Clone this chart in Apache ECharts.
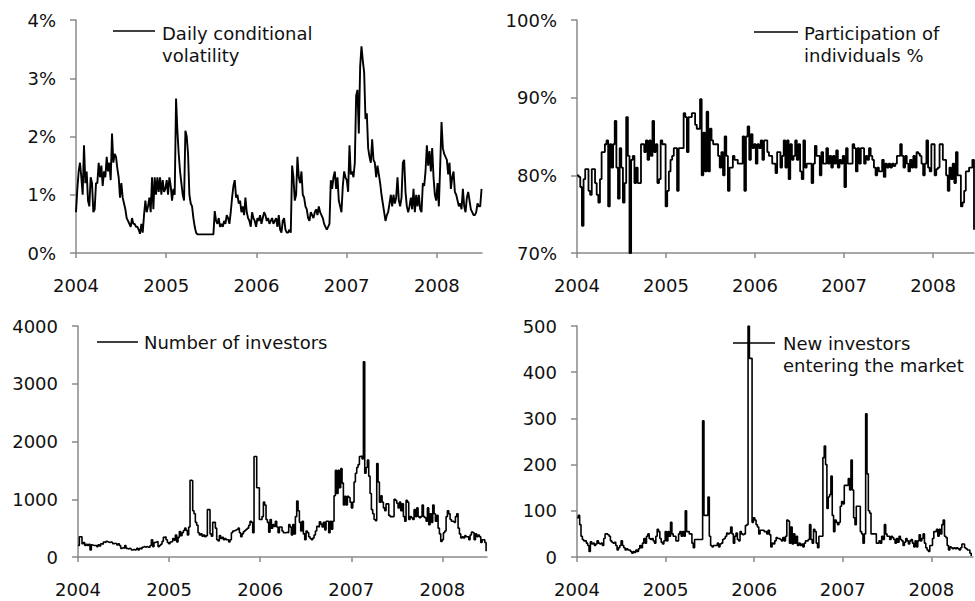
<!DOCTYPE html>
<html><head><meta charset="utf-8">
<script src="https://cdn.jsdelivr.net/npm/echarts@6/dist/echarts.min.js"></script>
<style>html,body{margin:0;padding:0;background:#fff}#c{width:975px;height:601px}</style>
</head><body><div id="c"></div>
<script>
// ---- data ----
const yearTicks = [2004, 2005, 2006, 2007, 2008];

// Daily conditional volatility, % (evenly spaced samples over volSpan)
const volSpan = [2004.0, 2008.495];
const volPct = [
0.7,1.1,1.4,1.55,1.3,1.0,1.85,1.2,1.4,0.9,
0.8,1.3,1.2,0.7,0.75,1.2,1.2,1.55,1.3,1.5,
1.15,1.4,1.3,1.65,1.4,1.55,1.25,2.05,1.55,1.7,
1.65,1.45,1.3,0.95,1.2,0.95,0.85,0.75,0.6,0.55,
0.5,0.45,0.6,0.5,0.5,0.45,0.45,0.4,0.33,0.5,
0.35,0.65,0.9,0.7,0.8,0.95,0.7,1.3,0.75,1.3,
1.0,1.3,1.05,1.3,1.0,1.25,1.05,1.1,1.25,1.0,
1.3,1.15,0.9,1.1,1.0,2.65,2.1,1.7,1.4,1.2,
1.0,0.9,2.1,2.0,1.7,1.0,0.85,0.8,0.6,0.45,
0.35,0.32,0.32,0.32,0.32,0.32,0.32,0.32,0.32,0.32,
0.32,0.32,0.32,0.32,0.72,0.55,0.5,0.6,0.45,0.5,
0.45,0.55,0.5,0.65,0.6,0.5,0.7,0.95,1.15,1.25,
0.95,1.0,0.85,0.9,0.7,0.8,0.65,0.95,0.7,0.6,
0.55,0.45,0.7,0.6,0.55,0.45,0.6,0.55,0.65,0.5,
0.6,0.7,0.65,0.55,0.6,0.5,0.55,0.6,0.5,0.55,
0.6,0.45,0.65,0.4,0.35,0.55,0.6,0.4,0.35,0.35,
0.4,0.35,1.5,1.3,0.9,1.0,1.65,1.3,1.2,1.4,
1.0,0.95,0.8,0.75,0.6,0.55,0.7,0.65,0.6,0.7,
0.75,0.65,0.8,0.7,0.65,0.6,0.5,0.45,0.4,0.45,
0.5,1.25,1.1,1.3,1.4,1.1,1.3,0.9,0.8,0.7,
1.15,1.4,1.3,1.25,1.05,1.85,1.35,1.4,1.3,1.55,
2.7,2.8,2.05,3.2,3.55,3.3,3.1,2.3,2.4,1.8,
1.65,1.55,1.95,1.6,1.55,1.3,1.5,1.35,1.2,1.0,
0.85,0.7,0.55,0.65,0.7,0.85,1.0,0.8,1.0,0.85,
0.95,1.3,0.9,0.8,0.95,1.55,1.6,1.05,0.8,0.7,
0.8,0.95,0.75,1.1,0.7,1.0,0.8,1.0,0.75,0.7,
1.2,1.15,1.4,1.85,1.5,1.75,1.4,1.8,1.3,1.0,
0.9,1.2,0.8,1.5,2.25,1.8,1.7,1.65,1.6,1.35,
1.55,1.1,1.3,1.4,1.05,1.0,0.9,0.8,0.85,0.75,
1.1,0.8,0.7,0.95,1.05,0.9,0.75,0.7,0.65,0.65,
0.7,0.85,0.8,0.8,1.1
];

// Participation of individuals, % (weekly)
const partSpan = [2004.0, 2008.46];
const partPct = [
80,79.8,78.5,73.5,79.5,80.8,80.8,78,77.5,80.8,
80.8,79,77.5,76.5,79.5,83,83,84,84.5,76,
84,81,84,87,81,77,83.5,81,76.5,79,
87.5,82.5,70,
82,82.5,79,81,79,79,84,84,83,84.5,
82,84.5,82.5,87,83,84,79,79.5,84.5,84,
84,76,78,80.5,82,82.5,83.5,83.5,78,83.5,
83.5,83.5,88,87.5,83,87.5,87.5,88,88,86.5,
86,86,89.8,80,85.5,80.5,88.2,80.5,86,84.5,
84,84,84,82.5,81,83,80,85,82.5,78,
81,81,82.5,82,82,81.5,81.5,81.5,85,78,
85,86.3,82,85.3,83.5,84,81.5,84,83.5,84.5,
82,84.5,84.5,83,82.5,82.5,81.5,81.5,80.3,83,
83,81,82.5,84.5,81,84.5,79.5,84,82,82.5,
84.5,82,84,80.5,79.5,84.5,81,81.5,81.5,81.5,
79,81.5,83.8,82.5,82.5,80,83,81.5,81.5,83.5,
81.5,82.5,81,82.5,81.5,83.2,81,82,81.5,82.5,
78.5,83.5,81.5,81.5,81.5,84,83.5,80.5,83.5,81.5,
83.5,83.5,81.5,82.5,82,83.5,82.5,82,81,80,
81,80.5,80.5,82,79.8,81.5,81,81.5,81,81.5,
81.2,81.5,82.5,82.5,84,82.5,81,82.5,81.5,80.5,
82,81,82.5,81,83,82.8,82.5,81.5,80,81.5,
84.5,81,80.5,84,84,80,80.8,81,84,84,
82,82,80,78,81,79.5,81.5,79,83,80,
80,76,76.5,78,80.5,80.5,81,81,82,73
];

// Number of investors
const invSpan = [2004.0, 2008.48];
const investors = [
200,350,350,230,250,200,220,200,220,120,
210,200,200,200,180,210,190,230,220,260,
250,270,260,250,260,250,230,240,230,210,
230,200,150,160,150,200,150,140,150,140,
120,130,120,130,150,120,150,140,170,180,
170,180,170,170,200,300,180,250,260,270,
180,200,220,270,340,350,300,250,230,260,
270,320,290,380,260,340,440,370,420,460,
500,460,380,520,1330,1320,800,750,600,550,
420,380,400,360,380,350,370,820,820,400,
360,600,600,500,300,280,370,320,340,300,
320,300,300,260,300,420,450,460,470,480,
500,420,350,400,440,460,480,500,550,620,
600,420,1740,1740,1200,1200,650,650,700,950,
900,650,600,430,650,500,560,530,620,520,
420,520,520,450,420,420,430,420,560,520,
380,560,400,700,970,800,600,450,620,400,
300,450,420,350,320,300,330,380,450,530,
520,610,570,520,600,470,620,620,420,620,
480,620,1060,1500,1100,1500,1200,1530,1280,900,
1050,900,1050,1030,950,850,950,1300,1450,1550,
1600,1740,1750,1700,3380,1450,1550,1680,1400,1100,
820,750,650,630,1620,1300,950,1060,950,850,
800,920,920,720,700,700,700,1000,980,930,
850,950,800,920,700,620,980,950,650,700,
680,650,820,700,850,700,680,700,900,700,
680,620,850,560,750,600,900,750,620,720,
500,400,270,300,420,450,700,800,750,650,
620,620,600,700,750,500,400,330,350,330,
370,350,350,300,380,430,420,300,400,350,
380,350,250,300,300,250,100
];

// New investors entering the market
const newSpan = [2004.0, 2008.45];
const newInvestors = [
85,90,70,45,38,35,35,30,25,12,
33,28,30,25,28,35,30,28,30,25,
40,50,50,48,45,35,32,30,32,25,
15,20,25,35,25,20,15,18,15,15,
12,8,12,10,15,12,18,25,20,30,
40,30,45,50,40,38,40,35,30,45,
60,55,40,32,28,35,55,35,55,45,
75,50,45,45,35,35,50,55,45,55,
45,100,55,55,50,50,30,20,38,38,
38,38,38,38,295,90,90,90,130,45,
25,22,25,25,25,30,22,28,30,38,
40,45,52,50,52,65,50,30,45,52,
38,35,55,50,48,50,68,70,500,430,
430,75,85,80,70,65,50,58,58,58,
55,55,50,58,48,22,30,28,35,42,
40,40,38,35,42,35,45,80,78,30,
65,28,50,30,45,25,30,25,28,22,
30,35,35,38,70,38,30,60,55,30,
20,45,45,45,215,240,200,105,130,135,
175,90,55,80,75,70,75,110,120,115,
155,155,155,170,145,210,145,85,70,110,
110,110,55,50,30,50,310,180,100,95,
50,50,50,50,30,30,35,30,45,38,
70,50,45,45,38,45,42,38,30,40,
32,45,38,35,25,32,40,35,28,35,
38,30,22,35,22,35,48,35,40,50,
30,20,15,12,25,25,40,55,55,60,
45,60,50,70,80,45,42,25,15,22,
20,18,20,18,20,18,15,20,28,28,
20,18,15,15,8,2
];

const seriesNames = ['Daily conditional\nvolatility', 'Participation of\nindividuals %', 'Number of investors', 'New investors\nentering the market'];

// ---- chart ----
function withDates(values, span) {
  const n = values.length;
  return values.map((v, i) => [span[0] + (span[1] - span[0]) * i / (n - 1), v]);
}
const FONT = '"DejaVu Sans", Verdana, sans-serif';
const FS = 18;
const GREY = '#8a8a8a';
const TXT = '#111111';

function xAxis(gridIndex, max) {
  return {
    type: 'value', gridIndex, min: 2004, max,
    axisLine: { show: true, onZero: false, lineStyle: { color: GREY, width: 1.5 } },
    axisTick: { show: true, length: 5, customValues: yearTicks, lineStyle: { color: GREY, width: 1.5 } },
    axisLabel: { customValues: yearTicks, margin: 23, color: TXT, fontFamily: FONT, fontSize: FS,
      formatter: v => String(Math.round(v)) },
    splitLine: { show: false }
  };
}
function yAxis(gridIndex, min, max, interval, suffix) {
  return {
    type: 'value', gridIndex, min, max, interval,
    axisLine: { show: true, onZero: false, lineStyle: { color: GREY, width: 1.5 } },
    axisTick: { show: true, length: 6, lineStyle: { color: GREY, width: 1.5 } },
    axisLabel: { margin: 20, color: TXT, fontFamily: FONT, fontSize: FS,
      formatter: v => String(v) + suffix },
    splitLine: { show: false }
  };
}
function lineSeries(idx, name, data, step, width) {
  return {
    type: 'line', name, xAxisIndex: idx, yAxisIndex: idx, data,
    symbol: 'none', showSymbol: false, step: step || false,
    lineStyle: { color: '#000', width: width || 1.7 }, animation: false, z: 2
  };
}
function legendGraphic(x1, x2, y, tx, ty, text) {
  return [
    { type: 'line', z: 100, shape: { x1, y1: y, x2, y2: y }, style: { stroke: '#000', lineWidth: 1.5 } },
    { type: 'text', z: 100, x: tx, y: ty, style: { text, font: FS + 'px ' + FONT, fill: TXT, lineHeight: 22 } }
  ];
}

const chart = echarts.init(document.getElementById('c'), null, { renderer: 'svg' });
chart.setOption({
  backgroundColor: '#ffffff',
  animation: false,
  grid: [
    { left: 76, top: 20, width: 406, height: 233 },
    { left: 577, top: 20, width: 397, height: 233 },
    { left: 78, top: 326, width: 409, height: 231 },
    { left: 577, top: 326, width: 396, height: 231 }
  ],
  xAxis: [ xAxis(0, 2008.5), xAxis(1, 2008.46), xAxis(2, 2008.49), xAxis(3, 2008.47) ],
  yAxis: [ yAxis(0, 0, 4, 1, '%'), yAxis(1, 70, 100, 10, '%'), yAxis(2, 0, 4000, 1000, ''), yAxis(3, 0, 500, 100, '') ],
  series: [
    lineSeries(0, seriesNames[0], withDates(volPct, volSpan), false, 1.9),
    lineSeries(1, seriesNames[1], withDates(partPct, partSpan), 'end', 1.8),
    lineSeries(2, seriesNames[2], withDates(investors, invSpan), 'end', 1.6),
    lineSeries(3, seriesNames[3], withDates(newInvestors, newSpan), 'end', 1.6)
  ],
  graphic: [].concat(
    legendGraphic(113, 155, 31, 162, 22, seriesNames[0]),
    legendGraphic(754, 798, 32, 804, 22, seriesNames[1]),
    legendGraphic(97, 138, 342, 144, 331, seriesNames[2]),
    legendGraphic(733, 775, 343, 783, 332, seriesNames[3])
  )
});
</script>
</body></html>
